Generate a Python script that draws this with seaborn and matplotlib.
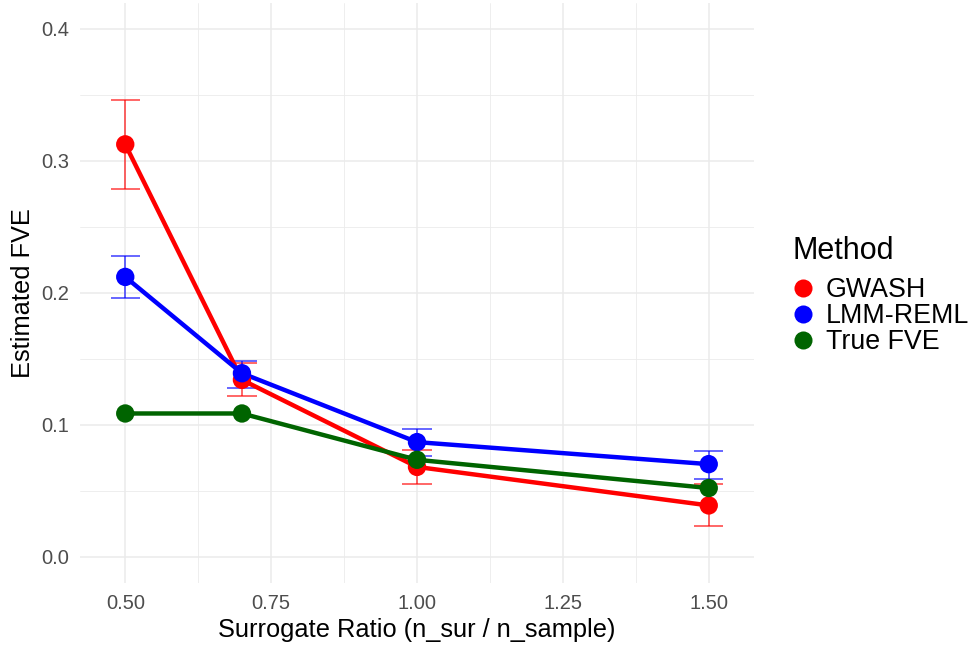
import pandas as pd
import seaborn as sns
import matplotlib.pyplot as plt
from matplotlib.lines import Line2D
from matplotlib.ticker import MultipleLocator

# Values
ratios = [0.5, 0.7, 1.0, 1.5]
methods = ["GWASH", "LMM-REML", "True FVE"]
gwash_fve = [0.3125, 0.134, 0.068, 0.0388]
gwash_lo = [0.2787, 0.122, 0.0552, 0.0235]
gwash_hi = [0.3458, 0.147, 0.081, 0.055]
lmm_fve = [0.212, 0.139, 0.0868, 0.0701]
lmm_lo = [0.196, 0.128, 0.0766, 0.059]
lmm_hi = [0.228, 0.148, 0.0966, 0.0804]
true_fve = [0.1085, 0.1085, 0.0734, 0.052]
colors = {"GWASH": "#FF0000", "LMM-REML": "#0000FF", "True FVE": "#006400"}

df = pd.DataFrame({
    "ratio": ratios * 3,
    "fve": gwash_fve + lmm_fve + true_fve,
    "Method": sum([[m] * len(ratios) for m in methods], []),
})

sns.set_theme(style="whitegrid")
plt.rcParams["font.family"] = ["Liberation Sans", "DejaVu Sans"]
plt.rcParams["text.color"] = "black"

fig = plt.figure(figsize=(9.76, 6.45), dpi=100)
ax = fig.add_axes([0.082, 0.0961, 0.6905, 0.9])

# error bars (GWASH and LMM only)
for m, lo, hi in [("GWASH", gwash_lo, gwash_hi), ("LMM-REML", lmm_lo, lmm_hi)]:
    left = [r - 0.025 for r in ratios]
    right = [r + 0.025 for r in ratios]
    ax.vlines(ratios, lo, hi, color=colors[m], alpha=0.6, lw=1.4, zorder=2)
    ax.hlines(lo, left, right, color=colors[m], alpha=0.6, lw=1.4, zorder=2)
    ax.hlines(hi, left, right, color=colors[m], alpha=0.6, lw=1.4, zorder=2)

sns.lineplot(data=df, x="ratio", y="fve", hue="Method", hue_order=methods,
             palette=colors, linewidth=3.2, legend=False, ax=ax, zorder=3)
sns.scatterplot(data=df, x="ratio", y="fve", hue="Method", hue_order=methods,
                palette=colors, s=175, linewidth=0, legend=False, ax=ax, zorder=4)

ax.set_xlim(0.4225, 1.5775)
ax.set_ylim(-0.02, 0.42)
ax.set_xticks([0.5, 0.75, 1.0, 1.25, 1.5])
ax.set_xticklabels(["0.50", "0.75", "1.00", "1.25", "1.50"])
ax.set_yticks([0.0, 0.1, 0.2, 0.3, 0.4])
ax.set_yticklabels(["0.0", "0.1", "0.2", "0.3", "0.4"])
ax.xaxis.set_minor_locator(MultipleLocator(0.125))
ax.yaxis.set_minor_locator(MultipleLocator(0.05))
ax.grid(which="major", color="#ebebeb", lw=1.1)
ax.grid(which="minor", color="#ebebeb", lw=0.6)
ax.tick_params(which="both", length=0, labelsize=14.5, labelcolor="#4d4d4d")
ax.tick_params(axis="y", pad=7.5)
ax.tick_params(axis="x", pad=8)
for s in ax.spines.values():
    s.set_visible(False)
ax.set_xlabel("Surrogate Ratio (n_sur / n_sample)", fontsize=18.3, color="black", labelpad=3.5)
ax.set_ylabel("Estimated FVE", fontsize=18.3, color="black", labelpad=5)

handles = [Line2D([], [], marker="o", linestyle="", markersize=13, markeredgewidth=0,
                  color=colors[m]) for m in methods]
leg = fig.legend(handles, methods, title="Method", loc="upper left",
                 bbox_to_anchor=(0.812, 0.634), frameon=False, fontsize=19.3,
                 title_fontsize=22, handletextpad=0.5, labelspacing=0.0,
                 borderaxespad=0, borderpad=0, handlelength=0.75,
                 labelcolor="black")
leg.get_title().set_color("black")
leg._legend_box.align = "left"
leg._legend_box.sep = 8

fig.savefig("out.png", dpi=100)
